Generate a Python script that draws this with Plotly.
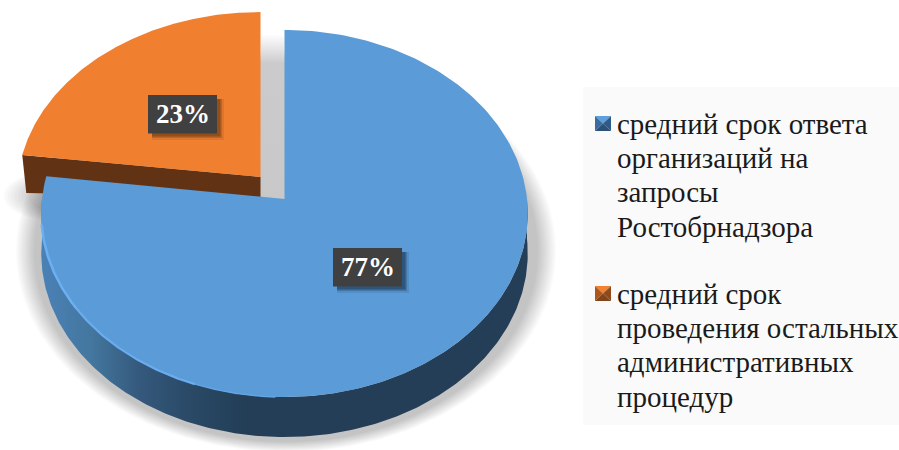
import numpy as np
import plotly.graph_objects as go

category_lines = [["средний срок ответа", "организаций на", "запросы", "Ростобрнадзора"],
                  ["средний срок", "проведения остальных", "административных", "процедур"]]
values = [77, 23]
labels = ["77%", "23%"]
top_colors = ["#5b9bd8", "#f07f30"]
swatch_faces = [["#5f9fdc", "#3c6c9c", "#2e5a88", "#2b5178"],
                ["#f08232", "#a9591f", "#8e4a18", "#84441a"]]

SERIF = "Liberation Serif"
# pie geometry (pixel-like axis units)
CX, CY, A, B, K = 284.5, 199.0, 242.5, 182.4, 0.079
PULL_DX, PULL_DY, PULL_SHRINK = -24.0, -22.0, 0.976
DEPTH = 40.0


def arc(t0, t1, cx=CX, cy=CY, a=A, b=B, n=240):
    t = np.radians(np.linspace(t0, t1, n))
    d = 1 + K * np.cos(t)
    return cx + a * np.sin(t) / d, cy - b * np.cos(t) / d


def ellipse(cx, cy, a, b, n=200):
    t = np.linspace(0, 2 * np.pi, n)
    return cx + a * np.cos(t), cy + b * np.sin(t)


total = sum(values)
blue_end = 360.0 * values[0] / total

fig = go.Figure()


def poly(x, y, color, **kw):
    fig.add_trace(go.Scatter(x=list(x), y=list(y), mode="lines", fill="toself", fillcolor=color,
                             line=dict(width=0, color=color), hoverinfo="skip", showlegend=False, **kw))


# soft shadow below the pie
for i in range(12):
    f = i / 11
    x, y = ellipse(286, 251, 270 - 18 * f, 201 - 10 * f)
    poly(x, y, "rgba(0,0,0,0.02)")
for i in range(8):
    f = i / 7
    x, y = ellipse(50, 196, 46 - 24 * f, 24 - 10 * f)
    poly(x, y, "rgba(0,0,0,0.022)")

# gap between the pulled slice and the pie
ax0 = CX + PULL_DX
ay0 = CY + PULL_DY
poly([ax0, CX, CX, ax0], [34, 34, 198, 198], "#c8c8c8",
     fillgradient=dict(type="vertical", start=34, stop=198,
                       colorscale=[[0, "#ffffff"], [0.18, "#cbcbcb"], [1, "#c8c8c8"]]))

# pulled slice: side wall and top
ox, oy = arc(blue_end, 360, cx=ax0, cy=ay0, b=B * PULL_SHRINK)
poly([ax0, ox[0], ox[0] + 4, ax0], [ay0, oy[0], oy[0] + 38, ay0 + 20], "#613214")
poly(np.r_[ax0, ox], np.r_[ay0, oy], top_colors[1])

# main slice: side wall
wx, wy = arc(90, 270)
poly(np.r_[wx, wx[::-1]], np.r_[wy, (wy + DEPTH)[::-1]], "#233e56",
     fillgradient=dict(type="horizontal", start=42, stop=527,
                       colorscale=[[0, "#4a81b6"], [0.1, "#44779f"], [0.2, "#35597d"],
                                   [0.3, "#2a4a67"], [0.42, "#233e56"], [1, "#233e56"]]))

# main slice: top
bx, by = arc(0, blue_end)
poly(np.r_[CX, bx], np.r_[CY, by], top_colors[0])

# bright rim along the lower-left edge
for t0, t1, col, w in [(262, 235, "#6bb0f2", 2.5), (235, 200, "#69adf0", 2.2), (200, 182, "#62a4e6", 1.5)]:
    rx, ry = arc(t0, t1, n=60)
    fig.add_trace(go.Scatter(x=rx, y=ry, mode="lines", line=dict(color=col, width=w),
                             hoverinfo="skip", showlegend=False))

shapes = [dict(type="rect", xref="x", yref="y", x0=583, x1=899, y0=87, y1=425,
               fillcolor="#fafafa", line_width=0, layer="below")]
annotations = []

# legend: pyramid swatch and text lines for each category
SW_X, SW_S, TEXT_X, LINE_H = 595, 16, 614.5, 34.2
for lines, faces, y_top in zip(category_lines, swatch_faces, [116, 286]):
    x0, x1, y0, y1 = SW_X, SW_X + SW_S, y_top, y_top + SW_S - 1
    mx, my = (x0 + x1) / 2, (y0 + y1) / 2
    poly([x0, x1, mx], [y0, y0, my], faces[0])
    poly([x0, mx, x0], [y0, my, y1], faces[1])
    poly([x1, mx, x1], [y0, my, y1], faces[2])
    poly([x0, x1, mx], [y1, y1, my], faces[3])
    for j, line in enumerate(lines):
        annotations.append(dict(x=TEXT_X, y=y_top + 8 + j * LINE_H, xref="x", yref="y", text=line, showarrow=False,
                                xanchor="left", yanchor="middle",
                                font=dict(family=SERIF, size=29, color="#1a1a1a")))

for (x0, y0), text, shadow in [((333, 248), labels[0], "rgba(30,60,90,0.55)"),
                               ((148, 95), labels[1], "rgba(110,60,20,0.55)")]:
    for d, a in [(7, 0.25), (5, 0.5), (3.5, 1)]:
        shapes.append(dict(type="rect", xref="x", yref="y", x0=x0 + 4, x1=x0 + 69 + d, y0=y0 + 4, y1=y0 + 38 + d,
                           fillcolor=shadow, opacity=a, line_width=0, layer="above"))
    shapes.append(dict(type="rect", xref="x", yref="y", x0=x0, x1=x0 + 69, y0=y0, y1=y0 + 38.5,
                       fillcolor="#404040", line_width=0, layer="above"))
    annotations.append(dict(x=x0 + 34.5, y=y0 + 19, xref="x", yref="y", text=f"<b>{text}</b>", showarrow=False,
                            font=dict(family=SERIF, size=27, color="#ffffff")))

fig.update_layout(
    width=899, height=450, margin=dict(l=0, r=0, t=0, b=0),
    paper_bgcolor="#ffffff", plot_bgcolor="#ffffff", showlegend=False,
    xaxis=dict(range=[0, 899], visible=False, fixedrange=True),
    yaxis=dict(range=[450, 0], visible=False, fixedrange=True),
    shapes=shapes, annotations=annotations,
)
fig.write_html("out.html", config=dict(displayModeBar=False),
               post_script="document.body.style.margin='0';document.body.style.overflow='hidden';")
